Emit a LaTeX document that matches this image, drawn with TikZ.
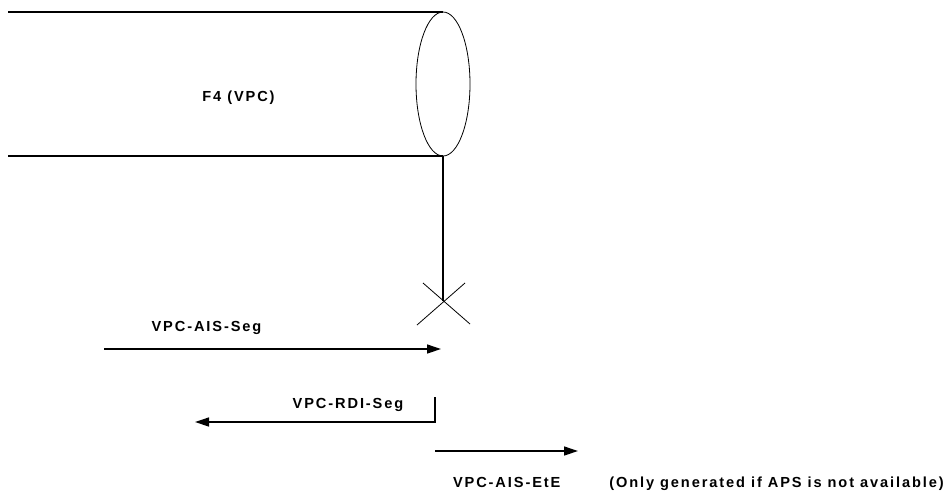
\documentclass[tikz,border=0pt]{standalone}
\usepackage{fontspec}
\setmainfont{Liberation Sans}[LetterSpace=13]
\usepackage{tikz}
\usetikzlibrary{arrows.meta}

\tikzset{
	cell text/.style = {font=\bfseries\fontsize{14.6}{17}\selectfont, inner sep=0pt, anchor=base},
	flow/.style = {-{Triangle[length=14pt, width=9pt]}}
}

\begin{document}
\begin{tikzpicture}[x=1pt, y=-1pt, line width=1.3pt]
		\def\rx{27};
		\def\ry{72};
		
		\useasboundingbox (0,0) rectangle (951,493);
		
		\coordinate (pipe top) at (8,12);
		\coordinate (pipe bottom) at (8,156);
		\coordinate (end top) at (443,12);
		\coordinate (end mid) at (443,84);
		\coordinate (end bottom) at (443,156);
		\coordinate (fault) at (443,301);
		
		% the VPC pipe
		\draw (pipe top) -- (end top);
		\draw (pipe bottom) -- (end bottom);
		\draw [line width=0.8pt] (end mid) ellipse [x radius = \rx, y radius = \ry];
		\node [cell text] (vpc) at (238.5,101.7) {F4 (VPC)};
		
		% drop to the fault
		\draw (end bottom) -- (fault);
		\begin{scope}[line width=0.8pt]
			\draw (fault) ++(-20,-18) -- ++(47,41);
			\draw (fault) ++(22,-18) -- ++(-48,42);
		\end{scope}
		
		\coordinate (ais seg start) at (104,349);
		\coordinate (ais seg end) at (441,349);
		\coordinate (rdi top) at (435,397);
		\coordinate (rdi corner) at (435,422);
		\coordinate (rdi end) at (195,422);
		\coordinate (ais ete start) at (435,451);
		\coordinate (ais ete end) at (578,451);
		
		\begin{scope}[flow]
			\draw (ais seg start) -- (ais seg end);
			\draw (rdi top) -- (rdi corner) -- (rdi end);
			\draw (ais ete start) -- (ais ete end);
		\end{scope}
		
		\node [cell text] (ais seg) at (206.5,331) {VPC-AIS-Seg};
		\node [cell text] (rdi seg) at (348,408) {VPC-RDI-Seg};
		\node [cell text] (ais ete) at (506.7,487) {VPC-AIS-EtE};
		\node [cell text] (note) at (776.5,487) {(Only generated if APS is not available)};
	\end{tikzpicture}
\end{document}
